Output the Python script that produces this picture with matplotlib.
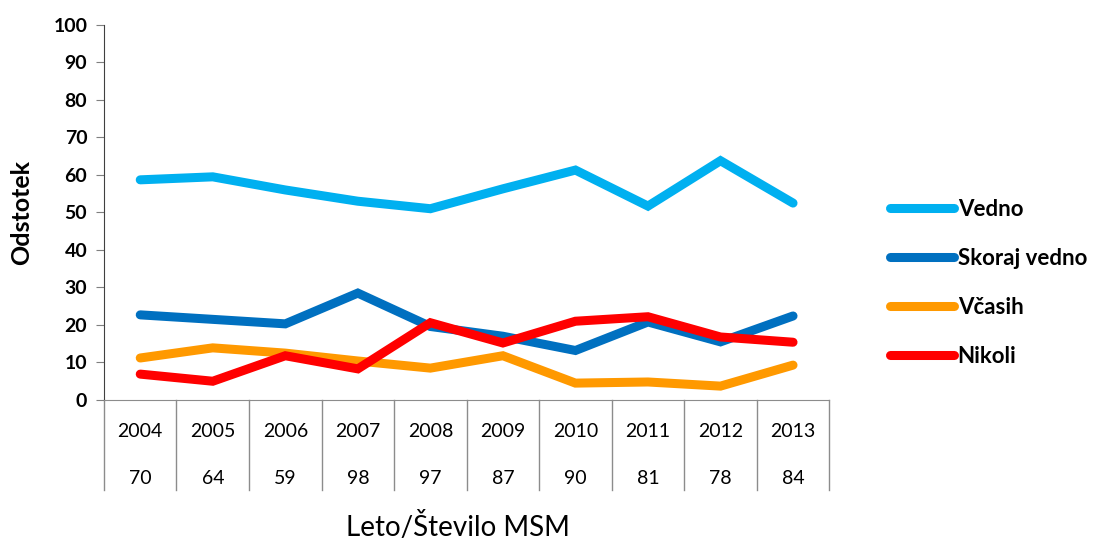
import numpy as np
import matplotlib.pyplot as plt
import matplotlib.transforms as mtransforms

plt.rcParams['font.family'] = ['Lato', 'DejaVu Sans']

# data
years = ['2004', '2005', '2006', '2007', '2008', '2009', '2010', '2011', '2012', '2013']
n_msm = ['70', '64', '59', '98', '97', '87', '90', '81', '78', '84']

vedno = [58.7, 59.5, 56.0, 53.0, 51.0, 56.3, 61.3, 51.7, 63.8, 52.5]
skoraj_vedno = [22.7, 21.5, 20.3, 28.5, 19.6, 17.0, 13.2, 20.8, 15.5, 22.4]
vcasih = [11.2, 13.9, 12.5, 10.4, 8.5, 11.8, 4.5, 4.8, 3.7, 9.3]
nikoli = [6.9, 5.0, 11.8, 8.3, 20.6, 15.2, 21.0, 22.2, 16.8, 15.4]

series = [
    ("Vedno", vedno, "#00B0F0"),
    ("Skoraj vedno", skoraj_vedno, "#0070C0"),
    ("Včasih", vcasih, "#FF9900"),
    ("Nikoli", nikoli, "#FF0000"),
]

fig = plt.figure(figsize=(10.99, 5.42), dpi=100)
ax = fig.add_axes([0.0946, 0.262, 0.66, 0.692])

x = np.arange(len(years))
for name, vals, col in series:
    ax.plot(x, vals, color=col, lw=6.5, label=name, solid_capstyle='round',
            solid_joinstyle='miter')

ax.set_xlim(-0.5, len(years) - 0.5)
ax.set_ylim(0, 100)
ax.set_yticks(np.arange(0, 101, 10))
ax.tick_params(axis='y', direction='out', length=6, color='#7f7f7f',
               labelsize=14, pad=6)
for lbl in ax.get_yticklabels():
    lbl.set_fontweight('bold')
ax.set_xticks([])

for s in ['top', 'right']:
    ax.spines[s].set_visible(False)
ax.spines['left'].set_color('#404040')
ax.spines['bottom'].set_color('#8c8c8c')

# category table below the axis
trans = mtransforms.blended_transform_factory(ax.transData, ax.transAxes)
for b in np.arange(len(years) + 1) - 0.5:
    ax.plot([b, b], [0, -0.24], transform=trans, clip_on=False,
            color='#8c8c8c', lw=1)
for i in range(len(years)):
    ax.text(i, -0.085, years[i], transform=trans, ha='center', va='center',
            fontsize=14)
    ax.text(i, -0.208, n_msm[i], transform=trans, ha='center', va='center',
            fontsize=14)

ax.text(0.488, -0.338, "Leto/Število MSM", transform=ax.transAxes,
        ha='center', va='center', fontsize=20)
ax.set_ylabel("Odstotek", fontsize=18, fontweight='bold', va='center')
ax.yaxis.set_label_coords(-0.113, 0.5)

leg = fig.legend(loc='center left', bbox_to_anchor=(0.8, 0.478), frameon=False,
                 handlelength=2.85, handletextpad=0.18, labelspacing=1.27,
                 borderpad=0, prop={'size': 16, 'weight': 'bold'})

fig.savefig("out.png", dpi=100)
